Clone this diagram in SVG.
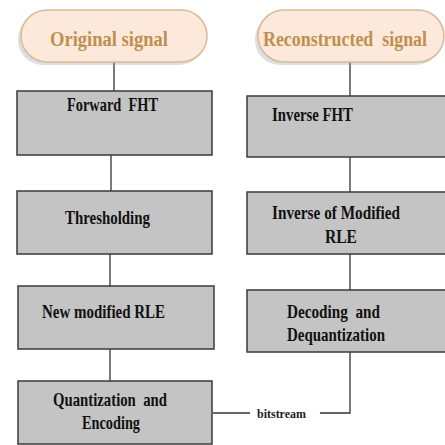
<svg xmlns="http://www.w3.org/2000/svg" width="445" height="445" viewBox="0 0 445 445">
<style>
.pill{fill:#fde9dc;stroke:#dcb994;stroke-width:1.5}
.pt{font-family:"Liberation Serif","Times New Roman",serif;font-weight:bold;font-size:20px;fill:#c08f4e;white-space:pre}
.box{fill:#c4c4c4;stroke:#3a3a3a;stroke-width:1.5}
.bt{font-family:"Liberation Serif","Times New Roman",serif;font-weight:bold;font-size:19px;fill:#111;white-space:pre}
.ln{stroke:#333;stroke-width:1.3;fill:none}
.lbl{font-family:"Liberation Serif","Times New Roman",serif;font-weight:bold;font-size:13px;fill:#222}
</style>
<rect width="445" height="445" fill="#ffffff"/>
<g id="connectors">
<line class="ln" x1="114" y1="62" x2="114" y2="91"/>
<line class="ln" x1="111" y1="155" x2="111" y2="191"/>
<line class="ln" x1="110" y1="254" x2="110" y2="286"/>
<line class="ln" x1="110" y1="349" x2="110" y2="381"/>
<line class="ln" x1="350" y1="62" x2="350" y2="96"/>
<line class="ln" x1="350" y1="157" x2="350" y2="192"/>
<line class="ln" x1="350" y1="254" x2="350" y2="290"/>
<polyline class="ln" points="213,413 250,413"/>
<polyline class="ln" points="320,413 350,413 350,352"/>
<text class="lbl" x="257" y="418" textLength="49" lengthAdjust="spacingAndGlyphs">bitstream</text>
</g>
<g id="original-signal">
<rect x="18" y="14" width="186" height="51" rx="25" fill="#9aa3ad" opacity="0.35"/>
<rect class="pill" x="21" y="10" width="186" height="52" rx="26"/>
<text class="pt" x="50" y="46" textLength="118" lengthAdjust="spacingAndGlyphs">Original signal</text>
</g>
<g id="reconstructed-signal">
<rect x="255" y="14" width="186" height="51" rx="25" fill="#9aa3ad" opacity="0.35"/>
<rect class="pill" x="258" y="10" width="186" height="52" rx="26"/>
<text class="pt" x="263" y="46" textLength="164" lengthAdjust="spacingAndGlyphs">Reconstructed  signal</text>
</g>
<g id="forward-fht">
<rect class="box" x="17" y="91" width="195" height="64"/>
<text class="bt" x="67" y="111" textLength="91" lengthAdjust="spacingAndGlyphs">Forward  FHT</text>
</g>
<g id="thresholding">
<rect class="box" x="17" y="191" width="195" height="63"/>
<text class="bt" x="65" y="224" textLength="85" lengthAdjust="spacingAndGlyphs">Thresholding</text>
</g>
<g id="new-modified-rle">
<rect class="box" x="18" y="286" width="196" height="63"/>
<text class="bt" x="42" y="318" textLength="123" lengthAdjust="spacingAndGlyphs">New modified RLE</text>
</g>
<g id="quantization-encoding">
<rect class="box" x="18" y="381" width="194" height="63"/>
<text class="bt" x="53" y="406" textLength="114" lengthAdjust="spacingAndGlyphs">Quantization  and</text>
<text class="bt" x="82" y="429" textLength="58" lengthAdjust="spacingAndGlyphs">Encoding</text>
</g>
<g id="inverse-fht">
<rect class="box" x="247" y="96" width="210" height="61"/>
<text class="bt" x="272" y="121" textLength="81" lengthAdjust="spacingAndGlyphs">Inverse FHT</text>
</g>
<g id="inverse-modified-rle">
<rect class="box" x="247" y="192" width="210" height="62"/>
<text class="bt" x="272" y="219" textLength="128" lengthAdjust="spacingAndGlyphs">Inverse of Modified</text>
<text class="bt" x="325" y="243" textLength="32" lengthAdjust="spacingAndGlyphs">RLE</text>
</g>
<g id="decoding-dequantization">
<rect class="box" x="247" y="290" width="210" height="62"/>
<text class="bt" x="287" y="318" textLength="93" lengthAdjust="spacingAndGlyphs">Decoding  and</text>
<text class="bt" x="287" y="341" textLength="98" lengthAdjust="spacingAndGlyphs">Dequantization</text>
</g>
</svg>
